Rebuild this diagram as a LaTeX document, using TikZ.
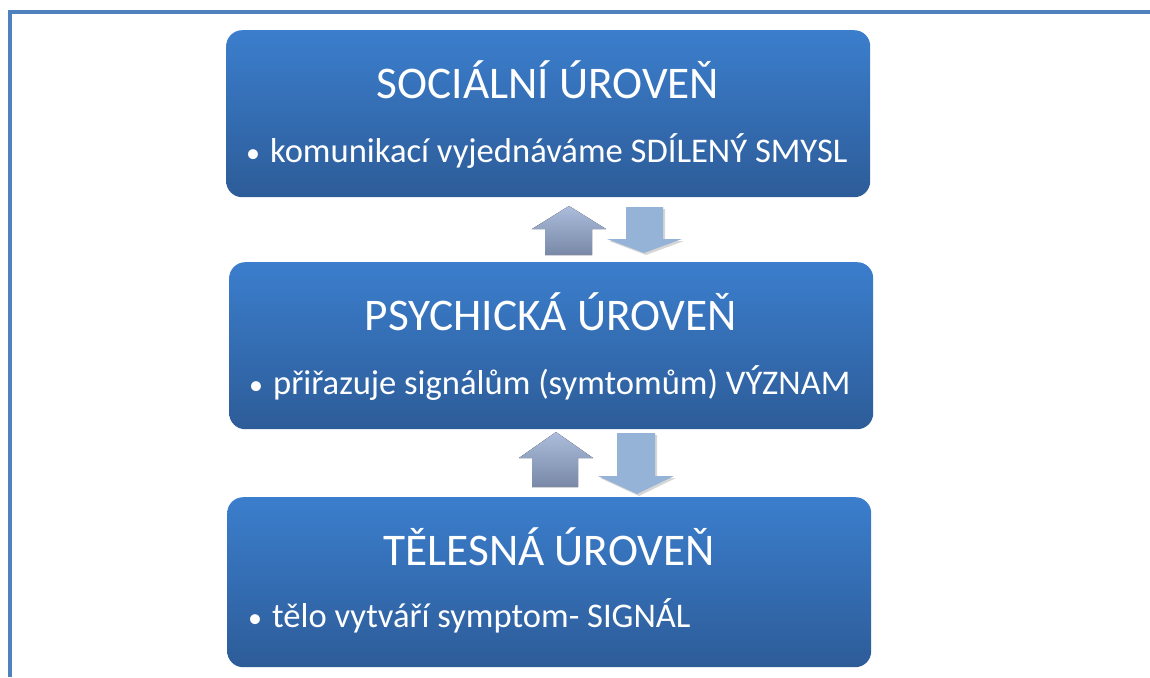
\documentclass[tikz,border=0pt]{standalone}
\usepackage{fontspec}
\setmainfont{Carlito}
\definecolor{framecol}{RGB}{79,129,189}
\definecolor{boxtop}{RGB}{59,126,205}
\definecolor{boxbot}{RGB}{45,92,152}
\definecolor{uptop}{RGB}{172,188,220}
\definecolor{upbot}{RGB}{120,136,166}
\definecolor{downcol}{RGB}{149,179,215}
\definecolor{shadowcol}{RGB}{175,175,175}
\newcommand{\lvlbullet}{{\fontsize{28}{30}\selectfont •}\hspace{10pt}}
\tikzset{
  levelbox/.style={rounded corners=16pt, top color=boxtop, bottom color=boxbot, draw=none,
    minimum width=644pt, minimum height=167pt, inner sep=0pt},
  leveltitle/.style={text=white, font=\fontsize{45.3}{50}\selectfont, inner sep=0pt},
  levelitem/.style={text=white, font=\fontsize{34.6}{40}\selectfont, inner sep=0pt},
  uparrow/.style={top color=uptop, bottom color=upbot, draw=none},
  downarrow/.style={fill=downcol, draw=none},
  arrowshadow/.style={fill=shadowcol, opacity=0.5, draw=none}
}
\begin{document}
\begin{tikzpicture}[x=1pt,y=-1pt]
\useasboundingbox (0,0) rectangle (1150,677);
\fill[white] (0,0) rectangle (1150,677);
\draw[framecol, line width=4pt] (10,677) -- (10,12.5) -- (1150,12.5);

% boxes
\node[levelbox, anchor=north west] (soc) at (226,30) {};
\node[levelbox, anchor=north west] (psy) at (229,262) {};
\node[levelbox, anchor=north west, minimum height=170pt] (tel) at (227,497) {};

% texts
\node[leveltitle, anchor=base] (socT) at (548,98) {SOCIÁLNÍ ÚROVEŇ};
\node[levelitem, anchor=base west] (socB) at (246,162) {\lvlbullet komunikací vyjednáváme SDÍLENÝ SMYSL};
\node[leveltitle, anchor=base] (psyT) at (551,330) {PSYCHICKÁ ÚROVEŇ};
\node[levelitem, anchor=base west] (psyB) at (249,394) {\lvlbullet přiřazuje signálům (symtomům) VÝZNAM};
\node[leveltitle, anchor=base] (telT) at (549,565) {TĚLESNÁ ÚROVEŇ};
\node[levelitem, anchor=base west] (telB) at (248,627) {\lvlbullet tělo vytváří symptom- SIGNÁL};

% arrows between social and psychic level
\fill[uparrow] (545,255) -- (545,229) -- (532,229) -- (569,206) -- (606,229) -- (592,229) -- (592,255) -- cycle;
\fill[arrowshadow] (628,209) -- (665,209) -- (665,241) -- (684,241) -- (646,255) -- (609,241) -- (628,241) -- cycle;
\fill[downarrow] (626,207) -- (663,207) -- (663,239) -- (682,239) -- (644,253) -- (607,239) -- (626,239) -- cycle;

% arrows between psychic and bodily level
\fill[uparrow] (532,487) -- (532,458) -- (519,458) -- (556,432) -- (593,458) -- (578,458) -- (578,487) -- cycle;
\fill[arrowshadow] (619,435) -- (657,435) -- (657,478) -- (676,478) -- (639,496) -- (600,478) -- (619,478) -- cycle;
\fill[downarrow] (617,433) -- (655,433) -- (655,476) -- (674,476) -- (637,494) -- (598,476) -- (617,476) -- cycle;
\end{tikzpicture}
\end{document}
